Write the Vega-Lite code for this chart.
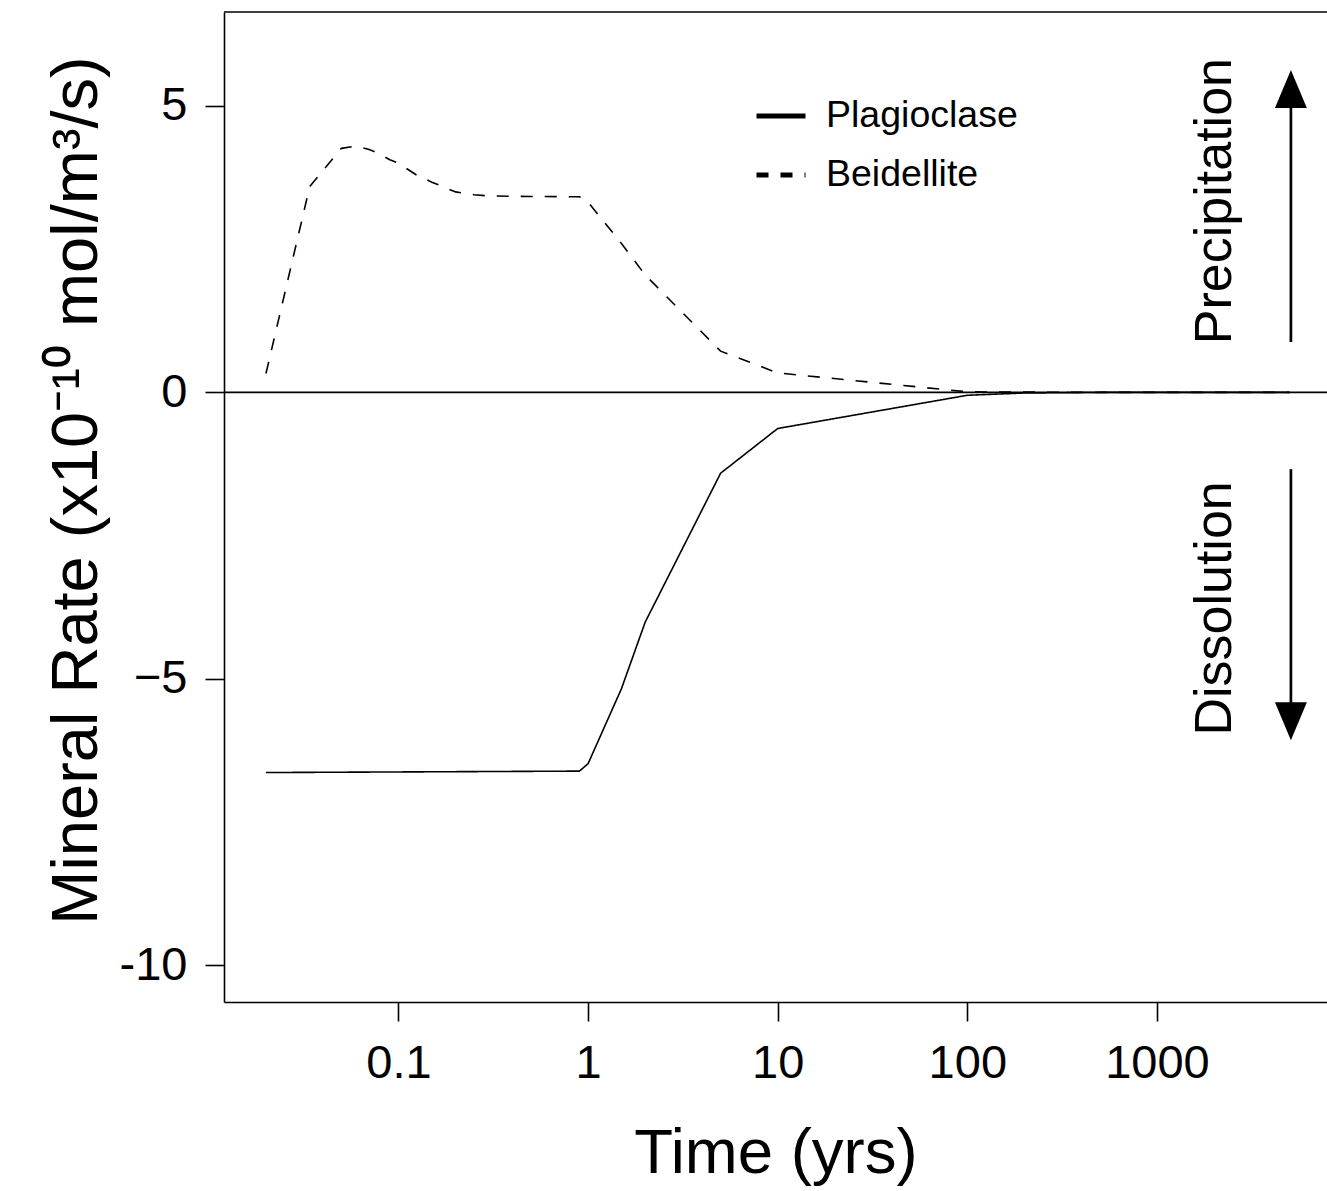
{
  "$schema": "https://vega.github.io/schema/vega-lite/v6.json",
  "width": 1103,
  "height": 990,
  "autosize": {"type": "none"},
  "padding": {"left": 224, "top": 12, "right": 0, "bottom": 189},
  "background": "white",
  "config": {
    "view": {"stroke": null},
    "font": "Liberation Sans",
    "axis": {
      "domainColor": "black", "domainWidth": 1.6,
      "tickColor": "black", "tickWidth": 1.6, "tickSize": 19,
      "labelFont": "Liberation Sans", "labelFontSize": 47, "labelColor": "black",
      "titleFont": "Liberation Sans", "titleFontSize": 63.5, "titleFontWeight": "normal", "titleColor": "black",
      "grid": false
    }
  },
  "datasets": {
    "series": [
      {"mineral": "Plagioclase", "time": 0.02, "rate": -6.635},
      {"mineral": "Plagioclase", "time": 0.9, "rate": -6.61},
      {"mineral": "Plagioclase", "time": 1.0, "rate": -6.48},
      {"mineral": "Plagioclase", "time": 1.5, "rate": -5.17},
      {"mineral": "Plagioclase", "time": 2.0, "rate": -4.01},
      {"mineral": "Plagioclase", "time": 5.0, "rate": -1.41},
      {"mineral": "Plagioclase", "time": 10, "rate": -0.63},
      {"mineral": "Plagioclase", "time": 100, "rate": -0.05},
      {"mineral": "Plagioclase", "time": 200, "rate": -0.01},
      {"mineral": "Plagioclase", "time": 500, "rate": 0},
      {"mineral": "Plagioclase", "time": 5000, "rate": 0},
      {"mineral": "Beidellite", "time": 0.02, "rate": 0.33},
      {"mineral": "Beidellite", "time": 0.034, "rate": 3.59},
      {"mineral": "Beidellite", "time": 0.05, "rate": 4.26},
      {"mineral": "Beidellite", "time": 0.06, "rate": 4.30},
      {"mineral": "Beidellite", "time": 0.07, "rate": 4.24},
      {"mineral": "Beidellite", "time": 0.08, "rate": 4.16},
      {"mineral": "Beidellite", "time": 0.09, "rate": 4.06},
      {"mineral": "Beidellite", "time": 0.1, "rate": 4.0},
      {"mineral": "Beidellite", "time": 0.125, "rate": 3.79},
      {"mineral": "Beidellite", "time": 0.15, "rate": 3.67},
      {"mineral": "Beidellite", "time": 0.2, "rate": 3.50},
      {"mineral": "Beidellite", "time": 0.25, "rate": 3.45},
      {"mineral": "Beidellite", "time": 0.3, "rate": 3.43},
      {"mineral": "Beidellite", "time": 0.5, "rate": 3.42},
      {"mineral": "Beidellite", "time": 0.9, "rate": 3.415},
      {"mineral": "Beidellite", "time": 1.0, "rate": 3.32},
      {"mineral": "Beidellite", "time": 1.5, "rate": 2.6},
      {"mineral": "Beidellite", "time": 2.0, "rate": 2.05},
      {"mineral": "Beidellite", "time": 5.0, "rate": 0.72},
      {"mineral": "Beidellite", "time": 10, "rate": 0.34},
      {"mineral": "Beidellite", "time": 100, "rate": 0.01},
      {"mineral": "Beidellite", "time": 500, "rate": 0},
      {"mineral": "Beidellite", "time": 5000, "rate": 0}
    ],
    "shafts": [
      {"dir": "up", "time": 5090, "rate": 0.88, "rate2": 5.2},
      {"dir": "down", "time": 5090, "rate": -1.34, "rate2": -5.6}
    ],
    "heads": [
      {"dir": "up", "time": 5090, "rate": 5.296},
      {"dir": "down", "time": 5090, "rate": -5.74}
    ],
    "notes": [
      {"label": "Precipitation", "time": 2470, "rate": 3.34},
      {"label": "Dissolution", "time": 2470, "rate": -3.77}
    ],
    "refs": [
      {"name": "zero", "rate": 0},
      {"name": "top", "rate": 6.64}
    ]
  },
  "layer": [
    {
      "data": {"name": "series"},
      "mark": {"type": "line", "color": "black", "strokeWidth": 1.6},
      "encoding": {
        "x": {
          "field": "time", "type": "quantitative",
          "scale": {"type": "log", "domain": [0.012014, 7890], "nice": false},
          "axis": {
            "values": [0.1, 1, 10, 100, 1000], "format": "~g",
            "labelPadding": 19, "labelFlush": false, "labelOverlap": false,
            "title": "Time (yrs)", "titleBaseline": "alphabetic", "titleY": 170
          }
        },
        "y": {
          "field": "rate", "type": "quantitative",
          "scale": {"domain": [-10.64, 6.64], "nice": false, "zero": false},
          "axis": {
            "values": [-10, -5, 0, 5], "format": "~g",
            "labelExpr": "datum.value == -10 ? '-10' : datum.label",
            "labelPadding": 18, "labelFlush": false, "labelOverlap": false,
            "title": "Mineral Rate (x10⁻¹⁰ mol/m³/s)",
            "titleFontSize": 65,
            "titleAngle": 270, "titleBaseline": "alphabetic", "titleX": -128, "titleY": 478
          }
        },
        "strokeDash": {
          "field": "mineral", "type": "nominal",
          "scale": {"domain": ["Plagioclase", "Beidellite"], "range": [[1, 0], [12, 12]]},
          "legend": {
            "orient": "none", "legendX": 530, "legendY": 77,
            "title": null, "padding": 0,
            "symbolType": "stroke", "symbolSize": 2401, "symbolStrokeWidth": 5,
            "symbolStrokeColor": "black",
            "labelFont": "Liberation Sans", "labelFontSize": 37.5, "labelColor": "black",
            "labelOffset": 18, "labelLimit": 600, "rowPadding": 13,
            "encode": {
              "symbols": {
                "update": {
                  "strokeDash": {"signal": "datum.value === 'Beidellite' ? [10, 9.5] : [1, 0]"}
                }
              }
            }
          }
        }
      }
    },
    {
      "data": {"name": "refs"},
      "mark": {"type": "rule", "color": "black", "strokeWidth": 1.6},
      "encoding": {"y": {"field": "rate", "type": "quantitative"}}
    },
    {
      "data": {"name": "shafts"},
      "mark": {"type": "rule", "color": "black", "strokeWidth": 2.7},
      "encoding": {
        "x": {"field": "time", "type": "quantitative"},
        "y": {"field": "rate", "type": "quantitative"},
        "y2": {"field": "rate2"}
      }
    },
    {
      "data": {"name": "heads"},
      "transform": [{"filter": "datum.dir === 'up'"}],
      "mark": {"type": "point", "shape": "M0,-1L-0.84,1L0.84,1Z", "filled": true, "size": 1444, "color": "black", "opacity": 1, "strokeWidth": 0},
      "encoding": {
        "x": {"field": "time", "type": "quantitative"},
        "y": {"field": "rate", "type": "quantitative"}
      }
    },
    {
      "data": {"name": "heads"},
      "transform": [{"filter": "datum.dir === 'down'"}],
      "mark": {"type": "point", "shape": "M0,1L-0.84,-1L0.84,-1Z", "filled": true, "size": 1444, "color": "black", "opacity": 1, "strokeWidth": 0},
      "encoding": {
        "x": {"field": "time", "type": "quantitative"},
        "y": {"field": "rate", "type": "quantitative"}
      }
    },
    {
      "data": {"name": "notes"},
      "mark": {"type": "text", "angle": 270, "fontSize": 52, "font": "Liberation Sans", "color": "black", "align": "center", "baseline": "alphabetic"},
      "encoding": {
        "x": {"field": "time", "type": "quantitative"},
        "y": {"field": "rate", "type": "quantitative"},
        "text": {"field": "label"}
      }
    }
  ]
}
